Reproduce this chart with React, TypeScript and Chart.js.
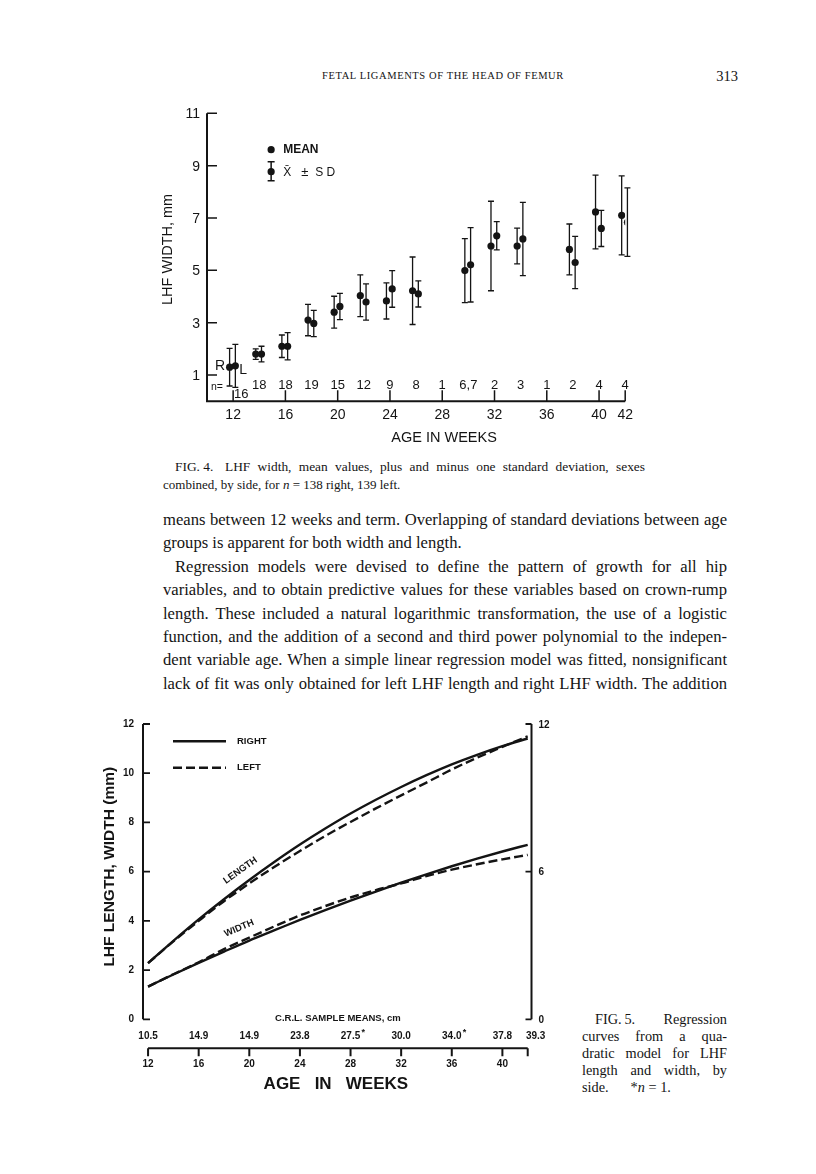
import React, { useEffect, useRef } from "react";
import { Chart, registerables } from "chart.js";
Chart.register(...registerables);

// ---------- FIG. 4 data (LHF width, mean ± SD, by side) ----------
const fig4Weeks = [12, 14, 16, 18, 20, 22, 24, 26, 30, 32, 34, 38, 40, 42];
const fig4RightMean = [1.3, 1.8, 2.1, 3.1, 3.4, 4.03, 3.83, 4.22, 4.99, 5.93, 5.93, 5.8, 7.23, 7.1];
const fig4RightSD = [0.72, 0.2, 0.43, 0.6, 0.61, 0.8, 0.69, 1.29, 1.22, 1.71, 0.68, 0.97, 1.41, 1.51];
const fig4LeftMean = [1.35, 1.8, 2.1, 2.97, 3.62, 3.79, 4.29, 4.1, 5.21, 6.32, 6.2, 5.3, 6.6, 6.84];
const fig4LeftSD = [0.82, 0.3, 0.52, 0.5, 0.5, 0.69, 0.7, 0.5, 1.42, 0.54, 1.4, 1.0, 0.69, 1.31];
const fig4NWeeks = [12, 14, 16, 18, 20, 22, 24, 26, 28, 30, 32, 34, 36, 38, 40, 42];
const fig4NLabels = ["16", "18", "18", "19", "15", "12", "9", "8", "1", "6,7", "2", "3", "1", "2", "4", "4"];
const fig4XTicks = [12, 16, 20, 24, 28, 32, 36, 40, 42];
const fig4YTicks = [1, 3, 5, 7, 9, 11];

// ---------- FIG. 5 data (quadratic regression curves) ----------
const fig5Weeks = [12, 14, 16, 18, 20, 22, 24, 26, 28, 30, 32, 34, 36, 38, 40, 42];
const fig5RightLength = [2.28, 3.19, 4.06, 4.88, 5.66, 6.4, 7.1, 7.75, 8.36, 8.92, 9.44, 9.92, 10.36, 10.75, 11.1, 11.41];
const fig5LeftLength = [2.28, 3.17, 4.0, 4.8, 5.52, 6.2, 6.84, 7.45, 8.02, 8.57, 9.1, 9.62, 10.15, 10.63, 11.07, 11.5];
const fig5RightWidth = [1.33, 1.82, 2.29, 2.75, 3.2, 3.62, 4.04, 4.44, 4.82, 5.19, 5.55, 5.89, 6.22, 6.53, 6.82, 7.09];
const fig5LeftWidth = [1.33, 1.83, 2.32, 2.85, 3.32, 3.78, 4.22, 4.6, 4.95, 5.25, 5.52, 5.82, 6.08, 6.3, 6.5, 6.68];
const fig5LeftTicks = [0, 2, 4, 6, 8, 10, 12];
const fig5RightTicks = [0, 6, 12];
const fig5AgeTicks = [12, 16, 20, 24, 28, 32, 36, 40];
const fig5CrlWeeks = [12, 16, 20, 24, 28, 32, 36, 40, 42];
const fig5CrlLabels = ["10.5", "14.9", "14.9", "23.8", "27.5*", "30.0", "34.0*", "37.8", "39.3"];

const INK = "#141414";
const SANS = "'Liberation Sans', Arial, sans-serif";
const SERIF = "'Liberation Serif', 'Times New Roman', serif";

function text(ctx: CanvasRenderingContext2D, s: string, x: number, y: number, font: string, align: CanvasTextAlign = "center", rot = 0) {
  ctx.save();
  ctx.translate(x, y);
  if (rot) ctx.rotate(rot);
  ctx.font = font;
  ctx.fillStyle = INK;
  ctx.textAlign = align;
  ctx.textBaseline = "middle";
  ctx.fillText(s, 0, 0);
  ctx.restore();
}

const fig4Plugin = {
  id: "fig4deco",
  beforeDatasetsDraw(chart: any) {
    const ctx = chart.ctx as CanvasRenderingContext2D;
    const xs = chart.scales.x, ys = chart.scales.y;
    ctx.save();
    ctx.strokeStyle = INK;
    ctx.lineWidth = 1.3;
    const drawBar = (x: number, m: number, sd: number) => {
      const px = xs.getPixelForValue(x);
      const top = ys.getPixelForValue(m + sd);
      const bot = ys.getPixelForValue(m - sd);
      ctx.beginPath();
      ctx.moveTo(px, top); ctx.lineTo(px, bot);
      ctx.moveTo(px - 3, top); ctx.lineTo(px + 3, top);
      ctx.moveTo(px - 3, bot); ctx.lineTo(px + 3, bot);
      ctx.stroke();
    };
    fig4Weeks.forEach((w, i) => {
      drawBar(w - 0.27, fig4RightMean[i], fig4RightSD[i]);
      drawBar(w + 0.17, fig4LeftMean[i], fig4LeftSD[i]);
    });
    ctx.restore();
  },
  afterDraw(chart: any) {
    const ctx = chart.ctx as CanvasRenderingContext2D;
    const xs = chart.scales.x, ys = chart.scales.y;
    const X = (v: number) => xs.getPixelForValue(v);
    const Y = (v: number) => ys.getPixelForValue(v);
    const x0 = X(10), y0 = Y(0);
    ctx.save();
    ctx.strokeStyle = INK;
    ctx.lineWidth = 2;
    ctx.beginPath();
    ctx.moveTo(x0, Y(11)); ctx.lineTo(x0, y0); ctx.lineTo(X(42), y0);
    ctx.stroke();
    ctx.lineWidth = 1.5;
    ctx.beginPath();
    fig4YTicks.forEach((v) => { ctx.moveTo(x0, Y(v)); ctx.lineTo(x0 + 10, Y(v)); });
    fig4XTicks.forEach((w) => { ctx.moveTo(X(w), y0); ctx.lineTo(X(w), y0 - 11); });
    ctx.stroke();
    ctx.restore();

    const tickFont = `14px ${SANS}`;
    fig4YTicks.forEach((v) => text(ctx, String(v), x0 - 7, Y(v) + 1, tickFont, "right"));
    fig4XTicks.forEach((w) => text(ctx, String(w), X(w), y0 + 14, tickFont));
    text(ctx, "AGE IN WEEKS", (X(10) + X(42)) / 2 + 28, y0 + 37, `14.5px ${SANS}`);
    text(ctx, "LHF WIDTH, mm", x0 - 39, Y(5.8), `14.5px ${SANS}`, "center", -Math.PI / 2);

    // n row
    text(ctx, "n=", x0 + 10, y0 - 14, `10.5px ${SANS}`);
    fig4NWeeks.forEach((w, i) => {
      if (i === 0) text(ctx, fig4NLabels[i], X(w) + 8, y0 - 7, `13px ${SANS}`);
      else text(ctx, fig4NLabels[i], X(w), y0 - 16, `13px ${SANS}`);
    });
    // R / L markers
    text(ctx, "R", X(12) - 13, Y(1.35), `14px ${SANS}`);
    text(ctx, "L", X(12) + 10, Y(1.2), `14px ${SANS}`);

    // legend
    const lx = X(12) + 38;
    const ly1 = Y(9) - 16, ly2 = Y(9) + 6;
    ctx.save();
    ctx.fillStyle = INK;
    ctx.beginPath(); ctx.arc(lx, ly1, 3.6, 0, Math.PI * 2); ctx.fill();
    ctx.beginPath(); ctx.arc(lx, ly2, 3.6, 0, Math.PI * 2); ctx.fill();
    ctx.strokeStyle = INK; ctx.lineWidth = 1.5;
    ctx.beginPath();
    ctx.moveTo(lx, ly2 - 10); ctx.lineTo(lx, ly2 + 9);
    ctx.moveTo(lx - 3.5, ly2 - 10); ctx.lineTo(lx + 3.5, ly2 - 10);
    ctx.moveTo(lx - 3.5, ly2 + 9); ctx.lineTo(lx + 3.5, ly2 + 9);
    ctx.stroke();
    ctx.restore();
    text(ctx, "MEAN", lx + 12, ly1, `bold 12px ${SANS}`, "left");
    text(ctx, "X̄", lx + 12, ly2 + 1, `12px ${SANS}`, "left");
    text(ctx, "±", lx + 30, ly2 + 1, `13px ${SANS}`, "left");
    text(ctx, "S D", lx + 44, ly2 + 1, `12px ${SANS}`, "left");
  },
};

const fig5Plugin = {
  id: "fig5deco",
  afterDraw(chart: any) {
    const ctx = chart.ctx as CanvasRenderingContext2D;
    const xs = chart.scales.x, ys = chart.scales.y;
    const X = (v: number) => xs.getPixelForValue(v);
    const Y = (v: number) => ys.getPixelForValue(v);
    const L = chart.chartArea.left, R = chart.chartArea.right;
    const y0 = Y(0);
    ctx.save();
    ctx.strokeStyle = INK;
    ctx.lineWidth = 2;
    ctx.beginPath();
    ctx.moveTo(L, Y(12)); ctx.lineTo(L, y0);
    ctx.moveTo(R, Y(12)); ctx.lineTo(R, y0);
    ctx.stroke();
    ctx.lineWidth = 1.8;
    ctx.beginPath();
    fig5LeftTicks.forEach((v) => { ctx.moveTo(L, Y(v)); ctx.lineTo(L + 7, Y(v)); });
    fig5RightTicks.forEach((v) => { ctx.moveTo(R, Y(v)); ctx.lineTo(R - 6, Y(v)); });
    ctx.stroke();
    // lower age axis
    const ya = y0 + 29;
    ctx.lineWidth = 2;
    ctx.beginPath();
    ctx.moveTo(X(12), ya); ctx.lineTo(X(42), ya);
    [...fig5AgeTicks, 42].forEach((w) => { ctx.moveTo(X(w), ya); ctx.lineTo(X(w), ya + 8); });
    ctx.stroke();
    ctx.restore();

    const tf = `bold 10px ${SANS}`;
    fig5LeftTicks.forEach((v) => text(ctx, String(v), L - 9, Y(v), tf, "right"));
    fig5RightTicks.forEach((v) => text(ctx, String(v), R + 7, Y(v) + 1, tf, "left"));
    fig5AgeTicks.forEach((w) => text(ctx, String(w), X(w), ya + 16, tf));
    text(ctx, "C.R.L. SAMPLE MEANS, cm", (X(12) + X(42)) / 2, y0 - 1, `bold 9.5px ${SANS}`);
    fig5CrlWeeks.forEach((w, i) => {
      const s = fig5CrlLabels[i];
      const px = i === fig5CrlWeeks.length - 1 ? X(w) + 8 : X(w);
      if (s.endsWith("*")) {
        text(ctx, s.slice(0, -1), px, y0 + 17, tf);
        ctx.font = tf;
        const wv = ctx.measureText(s.slice(0, -1)).width;
        text(ctx, "*", px + wv / 2 + 3, y0 + 13, `bold 9px ${SANS}`);
      } else {
        text(ctx, s, px, y0 + 17, tf);
      }
    });
    text(ctx, "AGE   IN   WEEKS", (X(12) + X(42)) / 2 - 2, ya + 36, `bold 17px ${SANS}`);
    text(ctx, "LHF LENGTH, WIDTH (mm)", L - 33, Y(6.2), `bold 15.5px ${SANS}`, "center", -Math.PI / 2);

    // legend
    ctx.save();
    ctx.strokeStyle = INK;
    ctx.lineWidth = 2.6;
    ctx.beginPath(); ctx.moveTo(L + 30, Y(11.3)); ctx.lineTo(L + 83, Y(11.3)); ctx.stroke();
    ctx.setLineDash([9, 4]);
    ctx.beginPath(); ctx.moveTo(L + 30, Y(10.22)); ctx.lineTo(L + 83, Y(10.22)); ctx.stroke();
    ctx.restore();
    text(ctx, "RIGHT", L + 94, Y(11.3), `bold 9.5px ${SANS}`, "left");
    text(ctx, "LEFT", L + 94, Y(10.22), `bold 9.5px ${SANS}`, "left");

    text(ctx, "LENGTH", X(19.3), Y(6.05), `bold 9.5px ${SANS}`, "center", -0.62);
    text(ctx, "WIDTH", X(19.2), Y(3.7), `bold 9.5px ${SANS}`, "center", -0.4);
  },
};

function useChart(ref: React.RefObject<HTMLCanvasElement>, make: (c: HTMLCanvasElement) => Chart) {
  useEffect(() => {
    if (!ref.current) return;
    const ch = make(ref.current);
    return () => ch.destroy();
  }, []);
}

export default function App() {
  const c4 = useRef<HTMLCanvasElement>(null);
  const c5 = useRef<HTMLCanvasElement>(null);

  useChart(c4, (cv) =>
    new Chart(cv, {
      type: "scatter",
      data: {
        datasets: [
          {
            label: "Right",
            data: fig4Weeks.map((w, i) => ({ x: w - 0.27, y: fig4RightMean[i] })),
            backgroundColor: INK, borderColor: INK, pointRadius: 3.6, borderWidth: 0,
          },
          {
            label: "Left",
            data: fig4Weeks.map((w, i) => ({ x: w + 0.17, y: fig4LeftMean[i] })),
            backgroundColor: INK, borderColor: INK, pointRadius: 3.6, borderWidth: 0,
          },
        ],
      },
      options: {
        animation: false, responsive: false, devicePixelRatio: 1, events: [],
        layout: { padding: { left: 207, right: 190.8, top: 113.3, bottom: 772.8 } },
        plugins: { legend: { display: false }, tooltip: { enabled: false } },
        scales: {
          x: { type: "linear", min: 10, max: 42, display: false },
          y: { type: "linear", min: 0, max: 11, display: false },
        },
      },
      plugins: [fig4Plugin],
    } as any)
  );

  useChart(c5, (cv) =>
    new Chart(cv, {
      type: "line",
      data: {
        datasets: [
          { label: "Right length", data: fig5Weeks.map((w, i) => ({ x: w, y: fig5RightLength[i] })) },
          { label: "Left length", data: fig5Weeks.map((w, i) => ({ x: w, y: fig5LeftLength[i] })), borderDash: [9, 4] },
          { label: "Right width", data: fig5Weeks.map((w, i) => ({ x: w, y: fig5RightWidth[i] })) },
          { label: "Left width", data: fig5Weeks.map((w, i) => ({ x: w, y: fig5LeftWidth[i] })), borderDash: [9, 4] },
        ].map((d) => ({ ...d, borderColor: INK, borderWidth: 2.4, pointRadius: 0, fill: false, cubicInterpolationMode: "monotone" })),
      },
      options: {
        animation: false, responsive: false, devicePixelRatio: 1, events: [],
        layout: { padding: { left: 143, right: 284.5, top: 724, bottom: 154.7 } },
        plugins: { legend: { display: false }, tooltip: { enabled: false } },
        scales: {
          x: { type: "linear", min: 11.6, max: 42.3, display: false },
          y: { type: "linear", min: 0, max: 12, display: false },
        },
      },
      plugins: [fig5Plugin],
    } as any)
  );

  const abs = (extra: React.CSSProperties): React.CSSProperties => ({ position: "absolute", whiteSpace: "nowrap", margin: 0, ...extra });
  const bodyLines = [
    { t: "means between 12 weeks and term. Overlapping of standard deviations between age", j: true, indent: 0 },
    { t: "groups is apparent for both width and length.", j: false, indent: 0 },
    { t: "Regression models were devised to define the pattern of growth for all hip", j: true, indent: 12 },
    { t: "variables, and to obtain predictive values for these variables based on crown-rump", j: true, indent: 0 },
    { t: "length. These included a natural logarithmic transformation, the use of a logistic", j: true, indent: 0 },
    { t: "function, and the addition of a second and third power polynomial to the indepen-", j: true, indent: 0 },
    { t: "dent variable age. When a simple linear regression model was fitted, nonsignificant", j: true, indent: 0 },
    { t: "lack of fit was only obtained for left LHF length and right LHF width. The addition", j: true, indent: 0 },
  ];
  const capLines5: React.ReactNode[] = [
    null,
    <>curves from a qua-</>,
    <>dratic model for LHF</>,
    <>length and width, by</>,
    <>side.</>,
  ];
  const capFont = `14.3px ${SERIF}`;

  return (
    <div style={{ position: "absolute", left: 0, top: 0, width: 816, height: 1174, background: "#fff", overflow: "hidden", color: INK }}>
      <div style={abs({ left: 0, width: 886, top: 69, textAlign: "center", font: `10.5px ${SERIF}`, letterSpacing: "0.6px", lineHeight: "14px" })}>
        FETAL LIGAMENTS OF THE HEAD OF FEMUR
      </div>
      <div style={abs({ left: 700, width: 38, top: 67, textAlign: "right", font: `14.5px ${SERIF}`, lineHeight: "18px" })}>313</div>

      <div style={abs({ left: 175, width: 470, top: 459, font: `13.4px ${SERIF}`, lineHeight: "16px", display: "flex", justifyContent: "space-between" })}>
        <span>FIG. 4.</span>
        <span style={{ width: 420, textAlign: "justify", textAlignLast: "justify", whiteSpace: "normal" } as any}>
          LHF width, mean values, plus and minus one standard deviation, sexes
        </span>
      </div>
      <div style={abs({ left: 163, top: 477, font: `13px ${SERIF}`, lineHeight: "16px" })}>
        combined, by side, for <i>n</i> = 138 right, 139 left.
      </div>

      {bodyLines.map((l, i) => (
        <div
          key={i}
          style={abs({
            left: 163 + l.indent, width: 564 - l.indent, top: 509 + i * 23.4, font: `16.6px ${SERIF}`, lineHeight: "22px",
            textAlign: l.j ? "justify" : "left", textAlignLast: l.j ? "justify" : "left", whiteSpace: "normal",
          } as any)}
        >
          {l.t}
        </div>
      ))}

      <div style={abs({ left: 595, width: 132, top: 1011, font: capFont, lineHeight: "17px", display: "flex", justifyContent: "space-between" })}>
        <span>FIG.&thinsp;5.</span>
        <span>Regression</span>
      </div>
      {capLines5.map((c, i) =>
        i === 0 ? null : (
          <div
            key={i}
            style={abs({
              left: 582, width: 145, top: 1011 + i * 17, font: capFont, lineHeight: "17px",
              textAlign: i === 4 ? "left" : "justify", textAlignLast: i === 4 ? "left" : "justify", whiteSpace: "normal",
            } as any)}
          >
            {c}
            {i === 4 ? <span style={{ marginLeft: 22 }}>*<i>n</i> = 1.</span> : null}
          </div>
        )
      )}

      <canvas ref={c4} width={816} height={1174} style={{ position: "absolute", left: 0, top: 0 }} />
      <canvas ref={c5} width={816} height={1174} style={{ position: "absolute", left: 0, top: 0 }} />
    </div>
  );
}
